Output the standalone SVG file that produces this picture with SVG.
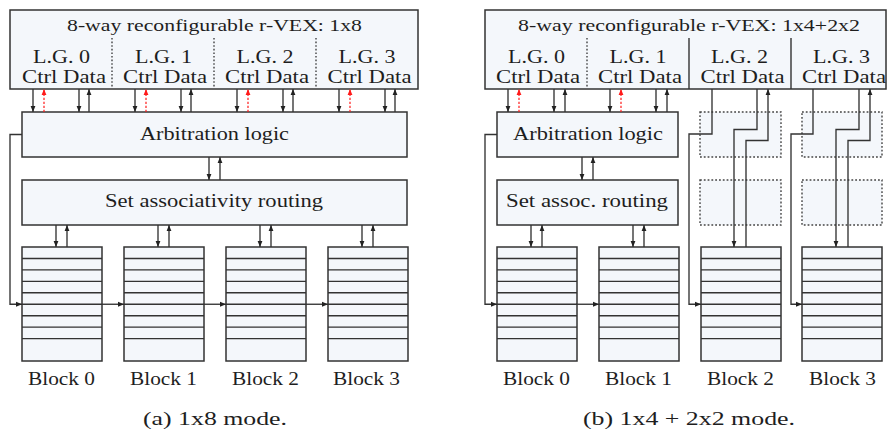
<svg xmlns="http://www.w3.org/2000/svg" xmlns:xlink="http://www.w3.org/1999/xlink" width="887" height="434" viewBox="0 0 887 434">
  <style>
    .box { fill: #f4f7fb; stroke: #333; stroke-width: 1.5; }
    .ghost { fill: #f4f7fb; stroke: #444; stroke-width: 1.4; stroke-dasharray: 1.8 2; }
    .row { stroke: #333; stroke-width: 1.4; fill: none; }
    .div-dot { stroke: #333; stroke-width: 1.3; stroke-dasharray: 1.6 2; }
    .div-solid { stroke: #333; stroke-width: 1.4; }
    .wire { fill: none; stroke: #333; stroke-width: 1.35; marker-end: url(#ah); }
    .ctrl { fill: none; stroke: #ff1a1a; stroke-width: 1.2; stroke-dasharray: 2.2 1.8; marker-end: url(#ahr); }
    text { font-family: "Liberation Serif", "Times New Roman", serif; fill: #1e1e1e; text-anchor: middle; }
    .t-title { font-size: 16px; }
    .t-lbl { font-size: 19.5px; }
  </style>
  <defs>
    <marker id="ah" viewBox="0 0 6 6" refX="6" refY="3" markerWidth="6" markerHeight="6" markerUnits="userSpaceOnUse" orient="auto">
      <path d="M0,0.6 L6,3 L0,5.4 z" fill="#222"/>
    </marker>
    <marker id="ahr" viewBox="0 0 6 6" refX="6" refY="3" markerWidth="6" markerHeight="6" markerUnits="userSpaceOnUse" orient="auto">
      <path d="M0,0.6 L6,3 L0,5.4 z" fill="#ff1a1a"/>
    </marker>
    <!-- one memory block: 80 x 114 with eight lines -->
    <g id="block">
      <rect class="box" x="0" y="0" width="80" height="114"/>
      <path class="row" d="M0,11.45 H80 M0,22.9 H80 M0,34.35 H80 M0,45.8 H80 M0,57.25 H80 M0,68.7 H80 M0,80.15 H80 M0,91.6 H80"/>
    </g>
  </defs>

  <!-- ===================== (a) 1x8 mode ===================== -->
  <g id="a-core">
    <rect class="box" x="10" y="10" width="408" height="79"/>
    <line class="div-dot" x1="112" y1="38" x2="112" y2="87"/>
    <line class="div-dot" x1="214" y1="38" x2="214" y2="87"/>
    <line class="div-dot" x1="316" y1="38" x2="316" y2="87"/>
    <text class="t-title" x="214.5" y="31" textLength="295" lengthAdjust="spacingAndGlyphs">8-way reconfigurable r-VEX: 1x8</text>
    <text class="t-lbl" x="61.5" y="63" textLength="57" lengthAdjust="spacingAndGlyphs">L.G. 0</text>
    <text class="t-lbl" x="163.5" y="63" textLength="57" lengthAdjust="spacingAndGlyphs">L.G. 1</text>
    <text class="t-lbl" x="265" y="63" textLength="57" lengthAdjust="spacingAndGlyphs">L.G. 2</text>
    <text class="t-lbl" x="367" y="63" textLength="57" lengthAdjust="spacingAndGlyphs">L.G. 3</text>
    <text class="t-lbl" x="64" y="83" textLength="84" lengthAdjust="spacingAndGlyphs">Ctrl Data</text>
    <text class="t-lbl" x="165" y="83" textLength="84" lengthAdjust="spacingAndGlyphs">Ctrl Data</text>
    <text class="t-lbl" x="267" y="83" textLength="84" lengthAdjust="spacingAndGlyphs">Ctrl Data</text>
    <text class="t-lbl" x="369.5" y="83" textLength="84" lengthAdjust="spacingAndGlyphs">Ctrl Data</text>
  </g>
  <g id="a-arbitration">
    <rect class="box" x="22" y="112" width="385" height="45"/>
    <text class="t-lbl" x="214.5" y="140" textLength="149" lengthAdjust="spacingAndGlyphs">Arbitration logic</text>
  </g>
  <g id="a-routing">
    <rect class="box" x="22" y="180" width="385" height="45"/>
    <text class="t-lbl" x="214" y="207" textLength="218" lengthAdjust="spacingAndGlyphs">Set associativity routing</text>
  </g>
  <g id="a-block0"><use xlink:href="#block" x="22" y="247"/><text class="t-lbl" x="61.5" y="385" textLength="67" lengthAdjust="spacingAndGlyphs">Block 0</text></g>
  <g id="a-block1"><use xlink:href="#block" x="124" y="247"/><text class="t-lbl" x="163.5" y="385" textLength="67" lengthAdjust="spacingAndGlyphs">Block 1</text></g>
  <g id="a-block2"><use xlink:href="#block" x="226" y="247"/><text class="t-lbl" x="265.5" y="385" textLength="67" lengthAdjust="spacingAndGlyphs">Block 2</text></g>
  <g id="a-block3"><use xlink:href="#block" x="328" y="247"/><text class="t-lbl" x="366.5" y="385" textLength="67" lengthAdjust="spacingAndGlyphs">Block 3</text></g>
  <text class="t-lbl" x="215" y="425" textLength="144" lengthAdjust="spacingAndGlyphs">(a) 1x8 mode.</text>

  <g id="a-connectors">
    <!-- lane group ports -->
    <path class="wire" d="M33,89 V112"/><path class="ctrl" d="M44,112 V89"/><path class="wire" d="M79,89 V112"/><path class="wire" d="M89,112 V89"/>
    <path class="wire" d="M135,89 V112"/><path class="ctrl" d="M146,112 V89"/><path class="wire" d="M181,89 V112"/><path class="wire" d="M191,112 V89"/>
    <path class="wire" d="M237,89 V112"/><path class="ctrl" d="M248,112 V89"/><path class="wire" d="M283,89 V112"/><path class="wire" d="M293,112 V89"/>
    <path class="wire" d="M339,89 V112"/><path class="ctrl" d="M350,112 V89"/><path class="wire" d="M385,89 V112"/><path class="wire" d="M395,112 V89"/>
    <!-- arbitration to routing -->
    <path class="wire" d="M209,157 V180"/><path class="wire" d="M220,180 V157"/>
    <!-- routing to blocks -->
    <path class="wire" d="M56,225 V247"/><path class="wire" d="M67,247 V225"/>
    <path class="wire" d="M158,225 V247"/><path class="wire" d="M169,247 V225"/>
    <path class="wire" d="M260,225 V247"/><path class="wire" d="M271,247 V225"/>
    <path class="wire" d="M362,225 V247"/><path class="wire" d="M373,247 V225"/>
    <!-- chained control line through the blocks -->
    <path class="wire" d="M22,134.5 H10 V304.25 H22"/>
    <path class="wire" d="M102,304.25 H124"/>
    <path class="wire" d="M204,304.25 H226"/>
    <path class="wire" d="M306,304.25 H328"/>
  </g>

  <!-- ===================== (b) 1x4 + 2x2 mode ===================== -->
  <g id="b-core">
    <rect class="box" x="485" y="10" width="401" height="79"/>
    <line class="div-dot" x1="587" y1="38" x2="587" y2="87"/>
    <line class="div-solid" x1="689" y1="38" x2="689" y2="89"/>
    <line class="div-solid" x1="791" y1="38" x2="791" y2="89"/>
    <text class="t-title" x="689" y="31" textLength="342" lengthAdjust="spacingAndGlyphs">8-way reconfigurable r-VEX: 1x4+2x2</text>
    <text class="t-lbl" x="536.5" y="63" textLength="57" lengthAdjust="spacingAndGlyphs">L.G. 0</text>
    <text class="t-lbl" x="638" y="63" textLength="57" lengthAdjust="spacingAndGlyphs">L.G. 1</text>
    <text class="t-lbl" x="739.5" y="63" textLength="57" lengthAdjust="spacingAndGlyphs">L.G. 2</text>
    <text class="t-lbl" x="841.5" y="63" textLength="57" lengthAdjust="spacingAndGlyphs">L.G. 3</text>
    <text class="t-lbl" x="538" y="83" textLength="84" lengthAdjust="spacingAndGlyphs">Ctrl Data</text>
    <text class="t-lbl" x="640" y="83" textLength="84" lengthAdjust="spacingAndGlyphs">Ctrl Data</text>
    <text class="t-lbl" x="742.5" y="83" textLength="84" lengthAdjust="spacingAndGlyphs">Ctrl Data</text>
    <text class="t-lbl" x="844" y="83" textLength="84" lengthAdjust="spacingAndGlyphs">Ctrl Data</text>
  </g>
  <g id="b-arbitration">
    <rect class="box" x="497" y="112" width="181" height="45"/>
    <text class="t-lbl" x="588" y="140" textLength="150" lengthAdjust="spacingAndGlyphs">Arbitration logic</text>
  </g>
  <g id="b-routing">
    <rect class="box" x="497" y="180" width="181" height="45"/>
    <text class="t-lbl" x="587" y="207" textLength="162" lengthAdjust="spacingAndGlyphs">Set assoc. routing</text>
  </g>
  <g id="b-unused-arb2"><rect class="ghost" x="700" y="112" width="81" height="45"/></g>
  <g id="b-unused-route2"><rect class="ghost" x="700" y="180" width="81" height="45"/></g>
  <g id="b-unused-arb3"><rect class="ghost" x="802" y="112" width="80" height="45"/></g>
  <g id="b-unused-route3"><rect class="ghost" x="802" y="180" width="80" height="45"/></g>
  <g id="b-block0"><use xlink:href="#block" x="497" y="247"/><text class="t-lbl" x="536.5" y="385" textLength="67" lengthAdjust="spacingAndGlyphs">Block 0</text></g>
  <g id="b-block1"><use xlink:href="#block" x="599" y="247"/><text class="t-lbl" x="638.5" y="385" textLength="67" lengthAdjust="spacingAndGlyphs">Block 1</text></g>
  <g id="b-block2"><use xlink:href="#block" x="701" y="247"/><text class="t-lbl" x="740.5" y="385" textLength="67" lengthAdjust="spacingAndGlyphs">Block 2</text></g>
  <g id="b-block3"><use xlink:href="#block" x="802" y="247"/><text class="t-lbl" x="842.5" y="385" textLength="67" lengthAdjust="spacingAndGlyphs">Block 3</text></g>
  <text class="t-lbl" x="689" y="425" textLength="212" lengthAdjust="spacingAndGlyphs">(b) 1x4 + 2x2 mode.</text>

  <g id="b-connectors">
    <path class="wire" d="M508,89 V112"/><path class="ctrl" d="M519,112 V89"/><path class="wire" d="M554,89 V112"/><path class="wire" d="M565,112 V89"/>
    <path class="wire" d="M610,89 V112"/><path class="ctrl" d="M621,112 V89"/><path class="wire" d="M656,89 V112"/><path class="wire" d="M667,112 V89"/>
    <path class="wire" d="M582,157 V180"/><path class="wire" d="M593,180 V157"/>
    <path class="wire" d="M531,225 V247"/><path class="wire" d="M542,247 V225"/>
    <path class="wire" d="M633,225 V247"/><path class="wire" d="M644,247 V225"/>
    <path class="wire" d="M497,134.5 H485 V304.25 H497"/>
    <path class="wire" d="M576,304.25 H599"/>
    <!-- lane group 2 bypasses the shared logic -->
    <path class="wire" d="M712,89 V134 H689 V304.25 H701"/>
    <path class="wire" d="M757,89 V129.5 H734 V247"/>
    <path class="wire" d="M746,247 V140.5 H768 V89"/>
    <!-- lane group 3 bypasses the shared logic -->
    <path class="wire" d="M813,89 V134 H791 V304.25 H802"/>
    <path class="wire" d="M859,89 V129.5 H836 V247"/>
    <path class="wire" d="M848,247 V140.5 H870 V89"/>
  </g>
</svg>
